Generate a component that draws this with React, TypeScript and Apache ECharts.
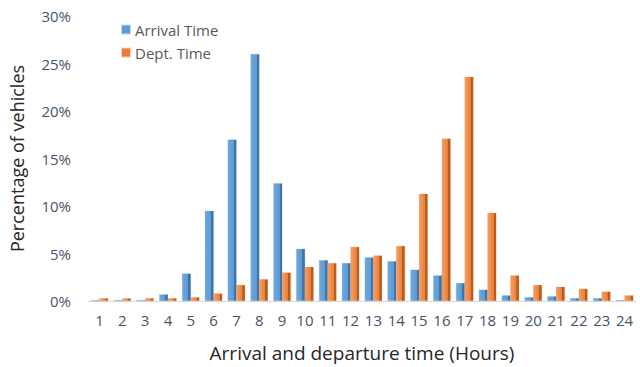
import React, { useEffect, useRef } from "react";
import * as echarts from "echarts";

const hours = ["1","2","3","4","5","6","7","8","9","10","11","12","13","14","15","16","17","18","19","20","21","22","23","24"];
const arrivalPct = [0.1,0.1,0.1,0.7,2.9,9.5,17.0,26.0,12.4,5.5,4.3,4.0,4.6,4.2,3.3,2.7,1.9,1.2,0.6,0.4,0.5,0.3,0.3,0.1];
const departurePct = [0.3,0.3,0.3,0.3,0.4,0.8,1.7,2.3,3.0,3.6,4.0,5.7,4.8,5.8,11.3,17.1,23.6,9.3,2.7,1.7,1.5,1.3,1.0,0.6];

const FONT = "'Open Sans', 'Noto Sans', sans-serif";

// Horizontal gradient: light face with a darker right-hand side, giving the bars a shaded, raised look
function shaded(light: string, mid: string, dark: string) {
  return new echarts.graphic.LinearGradient(0, 0, 1, 0, [
    { offset: 0, color: light },
    { offset: 0.7, color: mid },
    { offset: 0.72, color: dark },
    { offset: 1, color: dark },
  ]);
}

export default function App() {
  const ref = useRef<HTMLDivElement>(null);

  useEffect(() => {
    if (!ref.current) return;
    const chart = echarts.init(ref.current, undefined, { renderer: "svg" });
    chart.setOption({
      animation: false,
      backgroundColor: "#ffffff",
      textStyle: { fontFamily: FONT },
      legend: {
        orient: "vertical",
        left: 116,
        top: 17,
        itemWidth: 8,
        itemHeight: 8,
        itemGap: 8,
        icon: "rect",
        textStyle: { fontFamily: FONT, fontSize: 15, color: "#595959" },
        data: [
          { name: "Arrival Time", itemStyle: { color: "#5B9BD5" } },
          { name: "Dept. Time", itemStyle: { color: "#ED7D31" } },
        ],
      },
      grid: { left: 84, right: 4, top: 16, bottom: 65, containLabel: false },
      xAxis: {
        type: "category",
        data: hours,
        name: "Arrival and departure time (Hours)",
        nameLocation: "middle",
        nameGap: 42,
        nameTextStyle: { fontFamily: FONT, fontSize: 19, color: "#262626" },
        axisLine: { lineStyle: { color: "#D9D9D9", width: 1 } },
        axisTick: { show: false },
        axisLabel: { interval: 0, hideOverlap: false, fontFamily: FONT, fontSize: 15, color: "#44546A", margin: 11 },
      },
      yAxis: {
        type: "value",
        min: 0,
        max: 30,
        interval: 5,
        name: "Percentage of vehicles",
        nameLocation: "middle",
        nameGap: 62,
        nameTextStyle: { fontFamily: FONT, fontSize: 18, color: "#262626" },
        axisLine: { show: false },
        axisTick: { show: false },
        splitLine: { show: false },
        axisLabel: { fontFamily: FONT, fontSize: 15, color: "#44546A", formatter: "{value}%", margin: 17 },
      },
      series: [
        {
          name: "Arrival Time",
          type: "bar",
          data: arrivalPct,
          barWidth: 9,
          barGap: "-5%",
          itemStyle: { color: shaded("#6FA8DC", "#5B9BD5", "#3F74A8"), borderColor: "rgba(91,155,213,0.35)", borderWidth: 0.5 },
        },
        {
          name: "Dept. Time",
          type: "bar",
          data: departurePct,
          barWidth: 9,
          barGap: "-5%",
          itemStyle: { color: shaded("#F4A06A", "#ED7D31", "#B85C1E"), borderColor: "rgba(237,125,49,0.35)", borderWidth: 0.5 },
        },
      ],
    });
    return () => chart.dispose();
  }, []);

  return <div ref={ref} style={{ width: 640, height: 367, position: "absolute", left: 0, top: 0 }} />;
}
